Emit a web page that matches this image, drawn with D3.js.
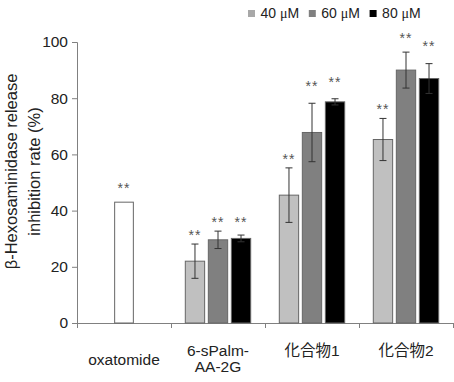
<!DOCTYPE html>
<html>
<head>
<meta charset="utf-8">
<script src="https://cdn.jsdelivr.net/npm/d3@7"></script>
<style>
  body { margin: 0; background: #fff; }
  svg text { font-family: "Liberation Sans", Arial, "Noto Sans CJK JP", sans-serif; }
</style>
</head>
<body>
<div id="chart"></div>
<script>
// values
const categories = ["oxatomide", "6-sPalm-AA-2G", "化合物1", "化合物2"];
const categoryLines = [["oxatomide"], ["6-sPalm-", "AA-2G"], ["化合物1"], ["化合物2"]];
const series = ["40", "60", "80"];
const yTicks = [0, 20, 40, 60, 80, 100];

const oxatomideValue = 43;
const oxatomideStar = 49.1;

// one entry per compound (6-sPalm-AA-2G, 化合物1, 化合物2)
const values40 = [22.0, 45.5, 65.3];
const values60 = [29.6, 67.8, 90.0];
const values80 = [30.1, 78.7, 87.0];
const err40 = [6.1, 9.7, 7.5];
const err60 = [3.1, 10.4, 6.4];
const err80 = [1.2, 1.1, 5.3];
const star40 = [32.2, 59.2, 76.9];
const star60 = [36.7, 85.3, 102.2];
const star80 = [36.7, 86.8, 99.5];

const colors = ["#c0c0c0", "#808080", "#000000"];

const width = 454;
const height = 382;
const margin = { top: 42, right: 1, bottom: 59, left: 77 };

const svg = d3.select("#chart")
  .append("svg")
  .attr("width", width)
  .attr("height", height);

const x0 = d3.scaleBand()
  .domain(categories)
  .range([margin.left, width - margin.right])
  .padding(0);

const y = d3.scaleLinear()
  .domain([0, 100])
  .range([height - margin.bottom, margin.top]);

const groupWidth = 65.4;
const x1 = d3.scaleBand()
  .domain(series)
  .range([0, groupWidth])
  .paddingInner(0.16);

// y axis
const yAxis = svg.append("g")
  .attr("transform", `translate(${margin.left},0)`)
  .call(d3.axisLeft(y).tickValues(yTicks).tickSize(5).tickPadding(4));
yAxis.selectAll("path, line").attr("stroke", "#808080");
yAxis.selectAll("text")
  .attr("fill", "#222")
  .style("font-size", "15.5px");

// x axis: ticks between categories
const xEdges = d3.scaleLinear()
  .domain([0, categories.length])
  .range(x0.range());
const xAxis = svg.append("g")
  .attr("transform", `translate(0,${y(0)})`)
  .call(d3.axisBottom(xEdges).tickValues(d3.range(categories.length + 1)).tickFormat("").tickSize(5).tickSizeOuter(0));
xAxis.selectAll("path, line").attr("stroke", "#808080");

// category labels
categoryLines.forEach((lines, i) => {
  const cx = x0(categories[i]) + x0.bandwidth() / 2;
  const t = svg.append("text")
    .attr("text-anchor", "middle")
    .attr("fill", "#222")
    .style("font-size", "15.5px");
  const base = lines.length === 1 && i === 0 ? 365 : 356;
  lines.forEach((line, j) => {
    t.append("tspan").attr("x", cx).attr("y", base + j * 16).text(line);
  });
});

// y title
const yTitle = svg.append("text")
  .attr("transform", `translate(0,${(y(0) + y(100)) / 2 - 11}) rotate(-90)`)
  .attr("text-anchor", "middle")
  .attr("fill", "#222")
  .style("font-size", "16.5px");
yTitle.append("tspan").attr("x", 0).attr("y", 17).text("β-Hexosaminidase release");
yTitle.append("tspan").attr("x", 0).attr("y", 40).text("inhibition rate (%)");

// oxatomide bar
const oxBw = 18.7;
const oxCx = x0("oxatomide") + x0.bandwidth() / 2;
svg.append("rect")
  .attr("x", oxCx - oxBw / 2)
  .attr("y", y(oxatomideValue))
  .attr("width", oxBw)
  .attr("height", y(0) - y(oxatomideValue))
  .attr("fill", "#fff")
  .attr("stroke", "#666")
  .attr("stroke-width", 1);

function drawStars(cx, v) {
  svg.append("text")
    .attr("x", cx)
    .attr("y", y(v) + 7.5)
    .attr("text-anchor", "middle")
    .attr("fill", "#555")
    .style("font-size", "14px")
    .style("letter-spacing", "1px")
    .text("**");
}
drawStars(oxCx, oxatomideStar);

// grouped bars
const allValues = [values40, values60, values80];
const allErr = [err40, err60, err80];
const allStars = [star40, star60, star80];

const rows = [];
categories.slice(1).forEach((c, i) => {
  series.forEach((s, k) => {
    rows.push({ cat: c, s: s, k: k, v: allValues[k][i], e: allErr[k][i], star: allStars[k][i] });
  });
});

const xPos = (d) => x0(d.cat) + (x0.bandwidth() - groupWidth) / 2 + x1(d.s);

svg.selectAll("rect.bar")
  .data(rows)
  .enter()
  .append("rect")
  .attr("class", "bar")
  .attr("x", (d) => xPos(d))
  .attr("y", (d) => y(d.v))
  .attr("width", x1.bandwidth())
  .attr("height", (d) => y(0) - y(d.v))
  .attr("fill", (d) => colors[d.k])
  .attr("stroke", "#666")
  .attr("stroke-width", 1);

// error bars
const cap = 3.5;
rows.forEach((d) => {
  const cx = xPos(d) + x1.bandwidth() / 2;
  const g = svg.append("g").attr("stroke", "#333").attr("stroke-width", 1);
  g.append("line").attr("x1", cx).attr("x2", cx).attr("y1", y(d.v + d.e)).attr("y2", y(d.v - d.e));
  g.append("line").attr("x1", cx - cap).attr("x2", cx + cap).attr("y1", y(d.v + d.e)).attr("y2", y(d.v + d.e));
  g.append("line").attr("x1", cx - cap).attr("x2", cx + cap).attr("y1", y(d.v - d.e)).attr("y2", y(d.v - d.e));
  drawStars(cx, d.star);
});

// legend
const legend = svg.append("g").attr("transform", "translate(248,0)");
series.forEach((s, k) => {
  const g = legend.append("g").attr("transform", `translate(${k * 60.8},0)`);
  g.append("rect")
    .attr("x", 0).attr("y", 10)
    .attr("width", 7).attr("height", 7)
    .attr("fill", colors[k] === "#c0c0c0" ? "#a8a8a8" : colors[k]);
  const t = g.append("text")
    .attr("x", 12.5).attr("y", 18.3)
    .attr("fill", "#222")
    .style("font-size", "14px");
  t.append("tspan").text(s + " ");
  t.append("tspan").style("font-family", "'Liberation Serif', 'Times New Roman', serif").text("μ");
  t.append("tspan").text("M");
});
</script>
</body>
</html>
